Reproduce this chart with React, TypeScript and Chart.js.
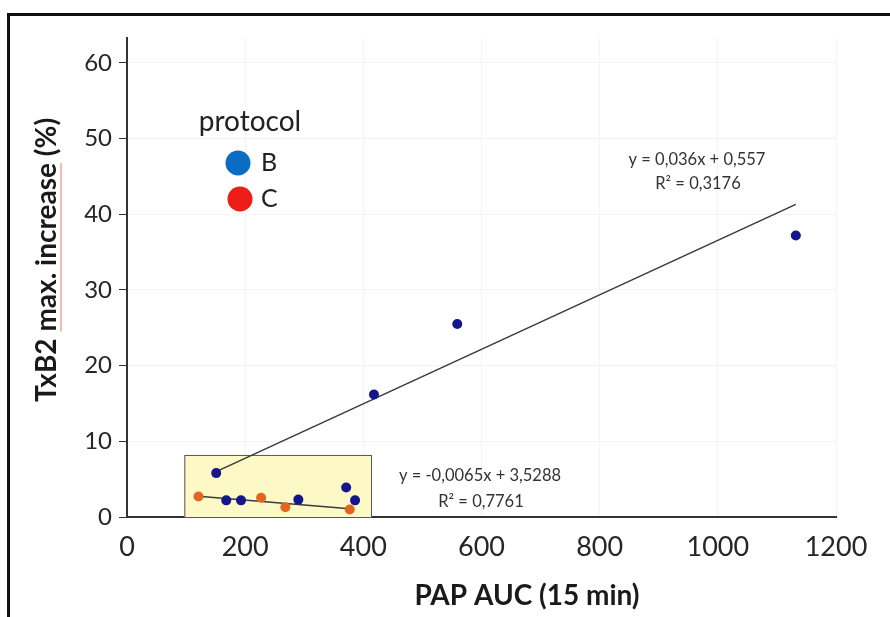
import React, { useEffect, useRef } from "react";
import { Chart, registerables } from "chart.js";
Chart.register(...registerables);

// ---- data ----
const protocolB_x = [151, 168, 193, 290, 371, 386, 418, 559, 1132];
const protocolB_y = [5.8, 2.2, 2.2, 2.3, 3.9, 2.2, 16.2, 25.5, 37.2];
const protocolC_x = [121, 227, 268, 377];
const protocolC_y = [2.7, 2.55, 1.3, 1.0];
const trendB_coef = [0.036, 0.557];
const trendC_coef = [-0.0065, 3.5288];
const trendB_label = ["y = 0,036x + 0,557", "R\u00B2 = 0,3176"];
const trendC_label = ["y = -0,0065x + 3,5288", "R\u00B2 = 0,7761"];
const boxX = [97, 413];
const boxY = [0, 8.2];
const xTicks = [0, 200, 400, 600, 800, 1000, 1200];
const yTicks = [0, 10, 20, 30, 40, 50, 60];
const legendTitle = "protocol";
const legendNames = ["B", "C"];
const xTitle = "PAP AUC (15 min)";
const yTitle = "TxB2 max. increase (%)";

const FONT = "Lato, 'Open Sans', sans-serif";

function trendPoints(xs: number[], coef: number[]) {
  const lo = Math.min(...xs);
  const hi = Math.max(...xs);
  return [
    { x: lo, y: coef[0] * lo + coef[1] },
    { x: hi, y: coef[0] * hi + coef[1] },
  ];
}

const overlay = {
  id: "overlay",
  beforeDatasetsDraw(chart: any) {
    const ctx = chart.ctx;
    const xs = chart.scales.x;
    const ys = chart.scales.y;
    const l = xs.getPixelForValue(boxX[0]);
    const r = xs.getPixelForValue(boxX[1]);
    const t = ys.getPixelForValue(boxY[1]);
    const b = ys.getPixelForValue(boxY[0]);
    ctx.save();
    ctx.fillStyle = "#fcf9c6";
    ctx.fillRect(l, t, r - l, b - t);
    ctx.strokeStyle = "#555";
    ctx.lineWidth = 1;
    ctx.strokeRect(l + 0.5, t + 0.5, r - l, b - t);
    ctx.restore();
  },
  afterDraw(chart: any) {
    const ctx = chart.ctx;
    ctx.save();
    // frame
    ctx.fillStyle = "#111";
    ctx.fillRect(7, 13, 883, 3);
    ctx.fillRect(7, 13, 3, 604);

    // y title
    ctx.save();
    ctx.translate(47, 260);
    ctx.rotate(-Math.PI / 2);
    ctx.font = `bold 28px ${FONT}`;
    ctx.fillStyle = "#1a1a1a";
    ctx.textAlign = "center";
    ctx.textBaseline = "middle";
    ctx.fillText(yTitle, 0, 0);
    // spell-check underline under "max. increase"
    const full = ctx.measureText(yTitle).width;
    const pre = ctx.measureText("TxB2 ").width;
    const mid = ctx.measureText("max. increase").width;
    ctx.strokeStyle = "rgba(225,90,90,0.7)";
    ctx.lineWidth = 1.2;
    ctx.beginPath();
    ctx.moveTo(-full / 2 + pre, 14);
    ctx.lineTo(-full / 2 + pre + mid, 14);
    ctx.stroke();
    ctx.restore();

    // x title
    ctx.font = `bold 28px ${FONT}`;
    ctx.fillStyle = "#1a1a1a";
    ctx.textAlign = "center";
    ctx.textBaseline = "middle";
    ctx.fillText(xTitle, 527, 596);

    // legend
    ctx.font = `28px ${FONT}`;
    ctx.fillStyle = "#222";
    ctx.fillText(legendTitle, 250, 122);
    ctx.fillStyle = "#0a6cc2";
    ctx.beginPath();
    ctx.arc(238, 163, 12.5, 0, Math.PI * 2);
    ctx.fill();
    ctx.fillStyle = "#ee1c16";
    ctx.beginPath();
    ctx.arc(240, 199, 12.5, 0, Math.PI * 2);
    ctx.fill();
    ctx.fillStyle = "#222";
    ctx.textAlign = "left";
    ctx.font = `25px ${FONT}`;
    ctx.fillText(legendNames[0], 261, 163);
    ctx.fillText(legendNames[1], 261, 199);

    // equations
    ctx.font = `16.5px ${FONT}`;
    ctx.fillStyle = "#333";
    ctx.textAlign = "center";
    ctx.fillText(trendB_label[0], 697, 160);
    ctx.fillText(trendB_label[1], 698, 184);
    ctx.fillText(trendC_label[0], 480, 476);
    ctx.fillText(trendC_label[1], 481, 502);
    ctx.restore();
  },
};

export default function App() {
  const ref = useRef<HTMLCanvasElement | null>(null);
  useEffect(() => {
    if (!ref.current) return;
    const chart = new Chart(ref.current, {
      type: "scatter",
      data: {
        datasets: [
          {
            label: "B",
            data: protocolB_x.map((x, i) => ({ x, y: protocolB_y[i] })),
            backgroundColor: "#15158c",
            borderWidth: 0,
            pointRadius: 5,
          },
          {
            label: "C",
            data: protocolC_x.map((x, i) => ({ x, y: protocolC_y[i] })),
            backgroundColor: "#e2661f",
            borderWidth: 0,
            pointRadius: 5,
          },
          {
            type: "line",
            label: "trend B",
            data: trendPoints(protocolB_x, trendB_coef),
            borderColor: "#3a3a3a",
            borderWidth: 1.5,
            pointRadius: 0,
            showLine: true,
            fill: false,
          } as any,
          {
            type: "line",
            label: "trend C",
            data: trendPoints(protocolC_x, trendC_coef),
            borderColor: "#3a3a3a",
            borderWidth: 1.5,
            pointRadius: 0,
            showLine: true,
            fill: false,
          } as any,
        ],
      },
      options: {
        animation: false,
        responsive: false,
        layout: { padding: { top: 38, right: 54, left: 0, bottom: 0 } },
        plugins: { legend: { display: false }, tooltip: { enabled: false } },
        scales: {
          x: {
            type: "linear",
            min: 0,
            max: 1200,
            afterBuildTicks: (s: any) => {
              s.ticks = xTicks.map((v) => ({ value: v }));
            },
            afterFit: (s: any) => {
              s.height = 100;
            },
            grid: { color: "#f4f4f4", drawTicks: false },
            border: { color: "#333", width: 2 },
            ticks: {
              padding: 14,
              color: "#262626",
              font: { family: FONT, size: 27 },
              maxRotation: 0,
              callback: (v: any) => String(v),
            },
          },
          y: {
            type: "linear",
            min: 0,
            max: 63.3,
            afterBuildTicks: (s: any) => {
              s.ticks = yTicks.map((v) => ({ value: v }));
            },
            afterFit: (s: any) => {
              s.width = 127;
            },
            grid: { color: "#f4f4f4", tickColor: "#333", tickLength: 8 },
            border: { color: "#333", width: 2 },
            ticks: {
              padding: 7,
              color: "#262626",
              font: { family: FONT, size: 24 },
              callback: (v: any) => String(v),
            },
          },
        },
      },
      plugins: [overlay],
    } as any);
    return () => chart.destroy();
  }, []);
  return (
    <div style={{ position: "fixed", left: 0, top: 0, width: 890, height: 617, background: "#fff" }}>
      <canvas ref={ref} width={890} height={617} style={{ display: "block" }} />
    </div>
  );
}
